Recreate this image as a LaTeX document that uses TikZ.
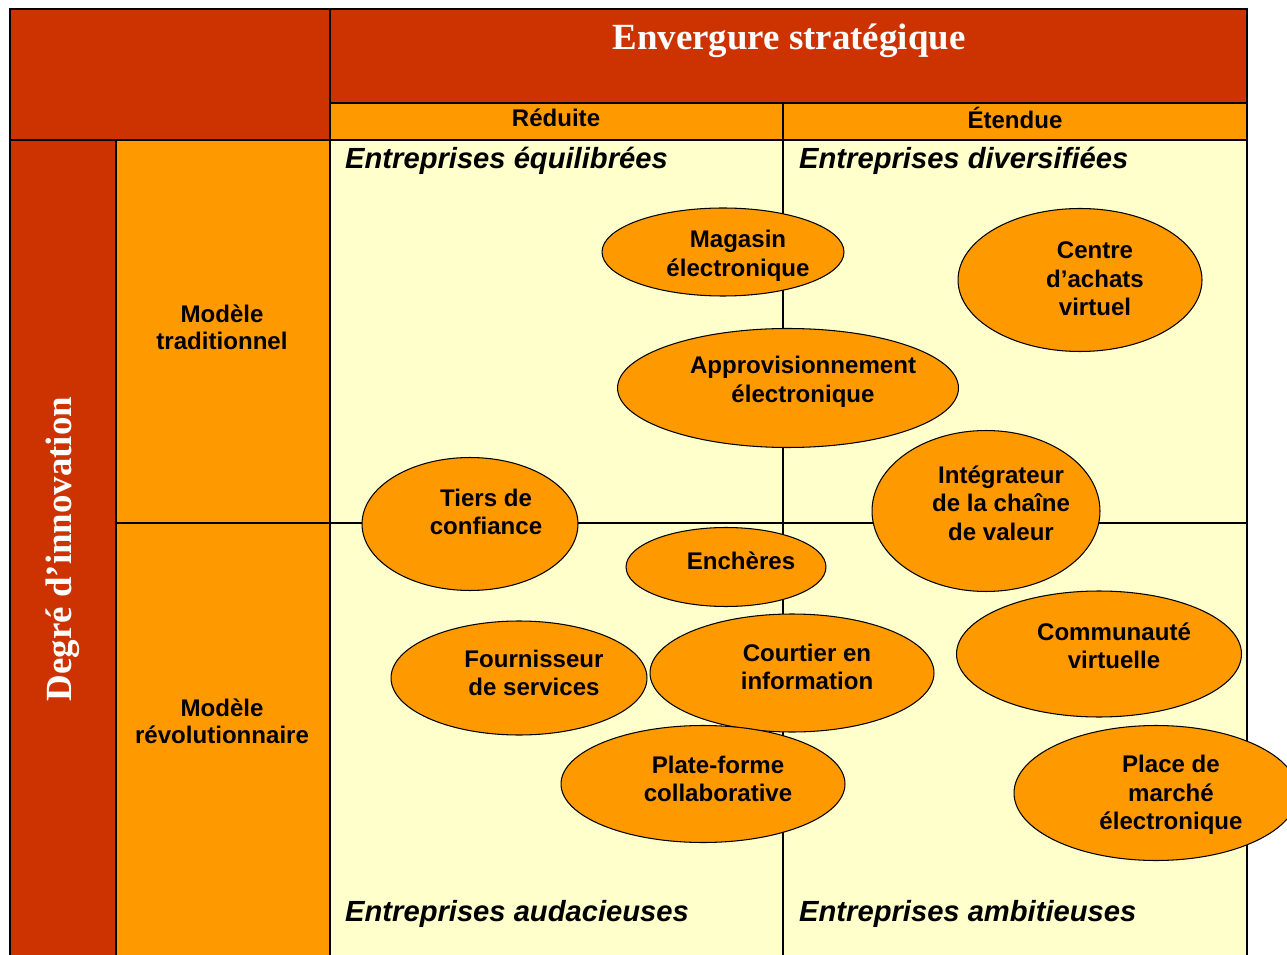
\documentclass[tikz,border=0pt]{standalone}
\usepackage{fontspec}
\setmainfont{Liberation Serif}
\setsansfont{Liberation Sans}
\usetikzlibrary{shapes.geometric}
\definecolor{brique}{HTML}{CC3300}
\definecolor{ambre}{HTML}{FF9900}
\definecolor{creme}{HTML}{FFFFCC}
\begin{document}
\begin{tikzpicture}[x=0.02cm, y=-0.02cm,
	trait/.style = {line width=1.1pt},
	bulle/.style = {draw, ellipse, fill=ambre, line width=0.6pt, inner sep=0pt},
	txt/.style = {font=\sffamily\bfseries\fontsize{13.7}{16.2}\selectfont, align=center},
	entete/.style = {font=\sffamily\bfseries\fontsize{13.7}{15.5}\selectfont, align=center},
	coin/.style = {font=\sffamily\bfseries\itshape\fontsize{16.6}{19}\selectfont, anchor=west},
	titre/.style = {font=\bfseries\fontsize{21}{24}\selectfont, text=white}]
		\useasboundingbox (0,0) rectangle (1287,955);
		\fill[white] (0,0) rectangle (1287,955);
		% fonds
		\fill[brique] (10,9) rectangle (1247,103);
		\fill[brique] (10,103) rectangle (330,140);
		\fill[ambre] (330,103) rectangle (1247,140);
		\fill[brique] (10,140) rectangle (116,955);
		\fill[ambre] (116,140) rectangle (330,955);
		\fill[creme] (330,140) rectangle (1247,955);
		% grille
		\draw[trait] (10,955) -- (10,9) -- (1247,9) -- (1247,955);
		\draw[trait] (330,9) -- (330,955);
		\draw[trait] (330,103) -- (1247,103);
		\draw[trait] (10,140) -- (1247,140);
		\draw[trait] (783,103) -- (783,955);
		\draw[trait] (116,140) -- (116,955);
		\draw[trait] (116,523) -- (1247,523);
		% titres
		\node[titre] (envergure) at (789,41) {Envergure stratégique};
		\node[titre, rotate=90] (degre) at (63,549) {Degré d’innovation};
		\node[entete] (reduite) at (556,118) {Réduite};
		\node[entete] (etendue) at (1015,118) {Étendue};
		\node[entete] (trad) at (222,327) {Modèle\\traditionnel};
		\node[entete] (revo) at (222,721) {Modèle\\révolutionnaire};
		\node[coin] (equil) at (339,161) {Entreprises équilibrées};
		\node[coin] (divers) at (793,161) {Entreprises diversifiées};
		\node[coin] (auda) at (339,914) {Entreprises audacieuses};
		\node[coin] (ambi) at (793,914) {Entreprises ambitieuses};
		% bulles
		\node[bulle, minimum width=4.84cm, minimum height=1.76cm] (magasin) at (723,252) {};
		\node[txt] (magasin-t) at (738,256) {Magasin\\électronique};
		\node[bulle, minimum width=4.88cm, minimum height=2.86cm] (centre) at (1080,280) {};
		\node[txt] (centre-t) at (1095,279) {Centre\\d’achats\\virtuel};
		\node[bulle, minimum width=6.82cm, minimum height=2.38cm] (appro) at (788,388) {};
		\node[txt] (appro-t) at (803,382) {Approvisionnement\\électronique};
		\node[bulle, minimum width=4.32cm, minimum height=2.66cm] (tiers) at (470,524) {};
		\node[txt] (tiers-t) at (486,512) {Tiers de\\confiance};
		\node[bulle, minimum width=4.56cm, minimum height=3.22cm] (integ) at (986,511) {};
		\node[txt] (integ-t) at (1001,503) {Intégrateur\\de la chaîne\\de valeur};
		\node[bulle, minimum width=4.0cm, minimum height=1.58cm] (encheres) at (726,567) {};
		\node[txt] (encheres-t) at (741,561) {Enchères};
		\node[bulle, minimum width=5.12cm, minimum height=2.28cm] (fourn) at (519,678) {};
		\node[txt] (fourn-t) at (534,673) {Fournisseur\\de services};
		\node[bulle, minimum width=5.68cm, minimum height=2.36cm] (courtier) at (792,673) {};
		\node[txt] (courtier-t) at (807,667) {Courtier en\\information};
		\node[bulle, minimum width=5.70cm, minimum height=2.52cm] (commu) at (1099,654) {};
		\node[txt] (commu-t) at (1114,646) {Communauté\\virtuelle};
		\node[bulle, minimum width=5.68cm, minimum height=2.34cm] (plate) at (703,784) {};
		\node[txt] (plate-t) at (718,779) {Plate-forme\\collaborative};
		\node[bulle, minimum width=5.68cm, minimum height=2.70cm] (place) at (1156,793) {};
		\node[txt] (place-t) at (1171,795) {Place de\\marché\\électronique};
\end{tikzpicture}
\end{document}
